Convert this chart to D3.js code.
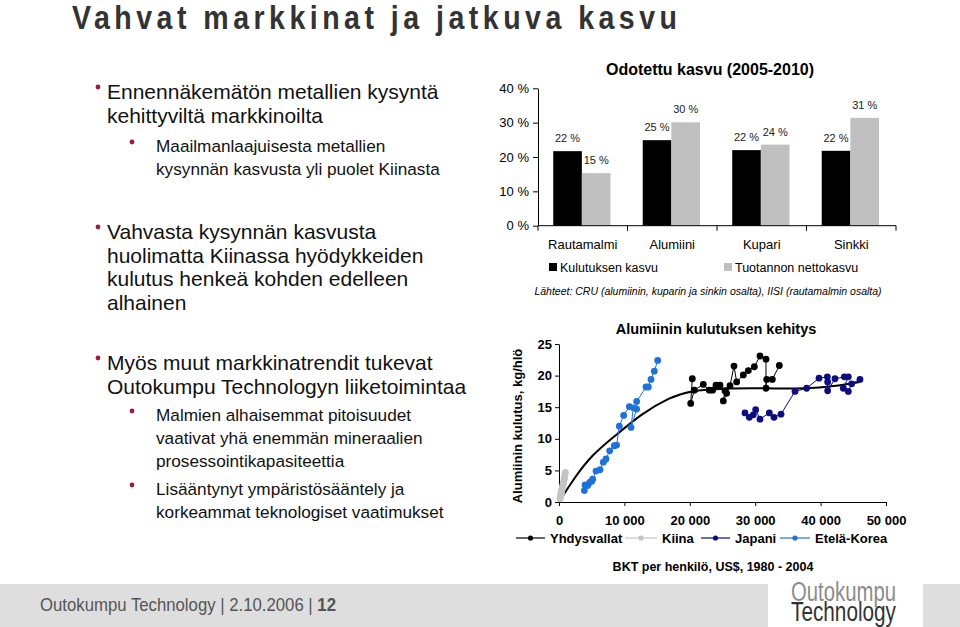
<!DOCTYPE html>
<html><head><meta charset="utf-8">
<script src="https://cdn.jsdelivr.net/npm/d3@7"></script>
<style>
body{margin:0;background:#fff;}
svg{display:block;font-family:Arial,"Liberation Sans",Helvetica,sans-serif;}
</style></head>
<body>
<svg id="c" width="960" height="627"></svg>
<script>
// ---------- DATA ----------
const barCategories = ["Rautamalmi","Alumiini","Kupari","Sinkki"];
const barSeries = ["Kulutuksen kasvu","Tuotannon nettokasvu"];
const consumptionGrowth = [21.7, 24.9, 22.0, 21.8];
const productionGrowth = [15.3, 30.1, 23.6, 31.4];
const barYTicks = [0,10,20,30,40];

const lineSeriesNames = ["Yhdysvallat","Kiina","Japani","Etelä-Korea"];
const usa = [[20382,19.5],[20138,15.6],[20688,17.7],[22064,18.6],[22982,17.7],[23491,17.7],[24006,18.5],[24618,18.5],[25382,17.6],[25128,16.0],[25637,17.2],[26147,18.4],[26758,21.5],[27166,19.0],[28186,20.1],[28950,20.8],[29868,21.4],[30734,23.1],[31651,22.6],[31651,18.0],[31764,19.4],[32620,19.4],[33690,21.6]];
const china = [[150,0.5],[200,0.7],[230,0.9],[260,1.0],[290,1.2],[320,1.3],[350,1.4],[380,1.6],[400,1.7],[430,1.9],[470,2.1],[520,2.3],[570,2.5],[620,2.8],[670,3.0],[720,3.2],[770,3.5],[820,3.8],[870,4.1],[920,4.4],[980,4.7]];
const japan = [[28440,14.1],[29103,13.4],[29715,13.8],[30071,14.6],[30734,13.1],[32161,14.1],[32875,13.4],[33945,13.9],[36086,17.5],[37870,18.0],[39755,19.6],[41030,19.8],[41080,19.0],[41080,17.6],[42202,19.5],[43629,19.8],[44240,19.8],[43476,18.0],[44240,17.5],[44750,18.7],[46025,19.4]];
const korea = [[3874,1.8],[3976,2.7],[4383,2.6],[4689,3.1],[5000,3.3],[5153,3.6],[5658,4.9],[6269,5.1],[6778,6.3],[7187,6.8],[7747,8.1],[8460,8.9],[8817,9.0],[9225,12.0],[9888,13.7],[10755,15.1],[11366,14.9],[11010,11.8],[11876,14.7],[11876,15.9],[13303,18.2],[13660,18.2],[14067,19.4],[14577,20.7],[15092,22.4]];
const trend = [[0,0],[2000,3.3],[5000,7.5],[9000,10.8],[12500,13.9],[17000,16.6],[20000,17.6],[25000,18.0],[32000,18.0],[38000,17.9],[42000,18.3],[46000,19.0]];
const lineXTicks = [0,10000,20000,30000,40000,50000];
const lineYTicks = [0,5,10,15,20,25];

// ---------- SETUP ----------
const svg = d3.select("#c");
const RED = "#9b1c3c";

// Title (condensed look via horizontal scaling)
const tsx = 0.84;
svg.append("g").attr("transform",`translate(72,29) scale(${tsx},1)`)
  .append("text").attr("x",0).attr("y",0).attr("textLength",605/tsx).attr("lengthAdjust","spacing")
  .style("font-size","34px").style("font-weight","bold").attr("fill","#333")
  .text("Vahvat markkinat ja jatkuva kasvu");

// Left bullets
const bullets = [
  {lvl:0, lines:["Ennennäkemätön metallien kysyntä","kehittyviltä markkinoilta"], y:99},
  {lvl:1, lines:["Maailmanlaajuisesta metallien","kysynnän kasvusta yli puolet Kiinasta"], y:152},
  {lvl:0, lines:["Vahvasta kysynnän kasvusta","huolimatta Kiinassa hyödykkeiden","kulutus henkeä kohden edelleen","alhainen"], y:239},
  {lvl:0, lines:["Myös muut markkinatrendit tukevat","Outokumpu Technologyn liiketoimintaa"], y:370},
  {lvl:1, lines:["Malmien alhaisemmat pitoisuudet","vaativat yhä enemmän mineraalien","prosessointikapasiteettia"], y:421},
  {lvl:1, lines:["Lisääntynyt ympäristösääntely ja","korkeammat teknologiset vaatimukset"], y:495}
];
bullets.forEach(b=>{
  const tx = b.lvl===0?107:156, bx = b.lvl===0?98:132, fs = b.lvl===0?21:17.2, lh = b.lvl===0?23.5:23;
  svg.append("circle").attr("cx",bx).attr("cy",b.y-(b.lvl===0?12:10)).attr("r",2.4).attr("fill",RED);
  const t = svg.append("text").attr("x",tx).attr("y",b.y).style("font-size",fs+"px").attr("fill","#111");
  b.lines.forEach((l,i)=>t.append("tspan").attr("x",tx).attr("y",b.y+i*lh).text(l));
});

// ---------- BAR CHART ----------
const bx = d3.scaleBand().domain(barCategories).range([538,896]).padding(0);
const by = d3.scaleLinear().domain([0,40]).range([225.7,88.3]);
const bw = bx.bandwidth();
const barColors = ["#000000","#c0c0c0"];
const barVals = [consumptionGrowth, productionGrowth];

svg.append("text").attr("x",710).attr("y",75).attr("text-anchor","middle")
  .style("font-size","16px").style("font-weight","bold").text("Odotettu kasvu (2005-2010)");

barVals.forEach((vals,si)=>{
  const g = svg.append("g");
  g.selectAll("rect").data(vals).join("rect")
    .attr("x",(d,i)=>bx(barCategories[i])+bw*0.17+si*bw*0.32)
    .attr("width",bw*0.32)
    .attr("y",d=>by(d)).attr("height",d=>by(0)-by(d))
    .attr("fill",barColors[si]);
  g.selectAll("text").data(vals).join("text")
    .attr("x",(d,i)=>bx(barCategories[i])+bw*0.17+si*bw*0.32+bw*0.16)
    .attr("y",d=>by(d)-9).attr("text-anchor","middle")
    .style("font-size","11px").attr("fill","#222")
    .text(d=>Math.round(d)+" %");
});

const byAxis = svg.append("g").attr("transform","translate(538,0)")
  .call(d3.axisLeft(by).tickValues(barYTicks).tickFormat(d=>d+" %").tickSize(5).tickSizeOuter(0));
byAxis.selectAll("text").style("font-size","13px").attr("fill","#000").attr("dx","-1");
byAxis.selectAll("line,path").attr("stroke","#000");

const bxAxis = svg.append("g").attr("transform","translate(0,225.7)");
bxAxis.append("line").attr("x1",538).attr("x2",896).attr("stroke","#000");
bxAxis.selectAll("line.t").data(barCategories.concat(["end"])).join("line").attr("class","t")
  .attr("x1",(d,i)=>538+i*bw).attr("x2",(d,i)=>538+i*bw).attr("y1",0).attr("y2",5).attr("stroke","#000");
bxAxis.selectAll("text").data(barCategories).join("text")
  .attr("x",d=>bx(d)+bw/2).attr("y",23).attr("text-anchor","middle")
  .style("font-size","13px").text(d=>d);

// bar legend
const bl = svg.append("g");
[[549,"Kulutuksen kasvu"],[724,"Tuotannon nettokasvu"]].forEach((o,i)=>{
  bl.append("rect").attr("x",o[0]).attr("y",263).attr("width",8).attr("height",8).attr("fill",barColors[i]);
  bl.append("text").attr("x",o[0]+11).attr("y",272).style("font-size",  "12.5px").text(barSeries[i]);
});
svg.append("text").attr("x",708).attr("y",295).attr("text-anchor","middle")
  .style("font-size","10.5px").style("font-style","italic")
  .text("Lähteet: CRU (alumiinin, kuparin ja sinkin osalta), IISI (rautamalmin osalta)");

// ---------- LINE CHART ----------
const lx = d3.scaleLinear().domain([0,50000]).range([559,886]);
const ly = d3.scaleLinear().domain([0,25]).range([502,344]);
const loc = d3.formatLocale({thousands:" ",grouping:[3],decimal:",",currency:["","$"]});
const fmt = loc.format(",");

svg.append("text").attr("x",716).attr("y",334).attr("text-anchor","middle")
  .style("font-size","14.5px").style("font-weight","bold").text("Alumiinin kulutuksen kehitys");

const lxAxis = svg.append("g").attr("transform","translate(0,502)")
  .call(d3.axisBottom(lx).tickValues(lineXTicks).tickFormat(fmt).tickSize(4).tickSizeOuter(0));
lxAxis.selectAll("text").style("font-size","13px").style("font-weight","bold").attr("fill","#000").attr("dy","1.25em");
lxAxis.selectAll("line,path").attr("stroke","#000");
const lyAxis = svg.append("g").attr("transform","translate(559,0)")
  .call(d3.axisLeft(ly).tickValues(lineYTicks).tickSize(4).tickSizeOuter(0));
lyAxis.selectAll("text").style("font-size","13px").style("font-weight","bold").attr("fill","#000");
lyAxis.selectAll("line,path").attr("stroke","#000");

svg.append("text").attr("transform","translate(522,426) rotate(-90)").attr("text-anchor","middle")
  .style("font-size","13px").style("font-weight","bold").text("Alumiinin kulutus, kg/hlö");

const line = d3.line().x(d=>lx(d[0])).y(d=>ly(d[1]));
const series = [
  {name:"Yhdysvallat", data:usa, color:"#000000"},
  {name:"Kiina", data:china, color:"#c4c4c4"},
  {name:"Japani", data:japan, color:"#0d0d80"},
  {name:"Etelä-Korea", data:korea, color:"#1f72d8"}
];
// trend
svg.append("path").datum(trend).attr("d",d3.line().x(d=>lx(d[0])).y(d=>ly(d[1])).curve(d3.curveBasis))
  .attr("fill","none").attr("stroke","#000").attr("stroke-width",2);
series.forEach(s=>{
  svg.append("path").datum(s.data).attr("d",line).attr("fill","none").attr("stroke",s.color).attr("stroke-width",1);
  svg.append("g").selectAll("circle").data(s.data).join("circle")
    .attr("cx",d=>lx(d[0])).attr("cy",d=>ly(d[1])).attr("r",3.4).attr("fill",s.color);
});

// line legend
const legX = [[516,550],[625,662],[701,735],[780,815]];
series.forEach((s,i)=>{
  const g = svg.append("g");
  g.append("line").attr("x1",legX[i][0]).attr("x2",legX[i][1]-5).attr("y1",538).attr("y2",538).attr("stroke",s.color).attr("stroke-width",1.2);
  g.append("circle").attr("cx",(legX[i][0]+legX[i][1]-5)/2).attr("cy",538).attr("r",2.6).attr("fill",s.color);
  g.append("text").attr("x",legX[i][1]).attr("y",542.5).style("font-size","13px").style("font-weight","bold").text(s.name);
});
svg.append("text").attr("x",713).attr("y",571).attr("text-anchor","middle")
  .style("font-size","12.5px").style("font-weight","bold").text("BKT per henkilö, US$, 1980 - 2004");

// ---------- FOOTER ----------
svg.append("rect").attr("x",0).attr("y",584).attr("width",768).attr("height",43).attr("fill","#dedede");
svg.append("rect").attr("x",923).attr("y",584).attr("width",37).attr("height",43).attr("fill","#dedede");
const ft = svg.append("text").attr("x",40).attr("y",611).attr("textLength",296).attr("lengthAdjust","spacingAndGlyphs")
  .style("font-size","19px").attr("fill","#555");
ft.append("tspan").text("Outokumpu Technology ");
ft.append("tspan").text("| 2.10.2006 |");
ft.append("tspan").style("font-weight","bold").text(" 12");
svg.append("text").attr("x",791).attr("y",601).attr("textLength",105).attr("lengthAdjust","spacingAndGlyphs")
  .style("font-size","27px").attr("fill","#8c8c8c").text("Outokumpu");
svg.append("text").attr("x",791).attr("y",621).attr("textLength",105).attr("lengthAdjust","spacingAndGlyphs")
  .style("font-size","27px").attr("fill","#333").text("Technology");
</script>
</body></html>
